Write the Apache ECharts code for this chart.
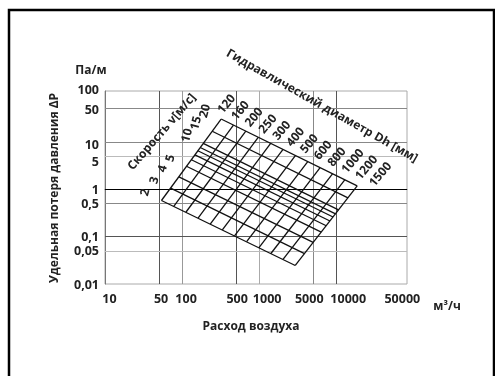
<!DOCTYPE html>
<html>
<head>
<meta charset="utf-8">
<script src="https://cdn.jsdelivr.net/npm/echarts@6.0.0/dist/echarts.min.js"></script>
<style>
html, body { margin: 0; padding: 0; background: #fff; }
#chart { width: 495px; height: 376px; }
</style>
</head>
<body>
<div id="chart"></div>
<script>
// axis ticks (real values, drawn on log10 scale)
var xTicks = [10, 50, 100, 500, 1000, 5000, 10000, 50000];
var yTicks = [0.01, 0.05, 0.1, 0.5, 1, 5, 10, 50, 100];
var xGrid = [50, 100, 500, 1000, 5000, 10000];
var yGrid = [0.05, 0.1, 0.5, 1, 5, 10, 50];

// hydraulic diameter lines, mm: ends at v = 2 m/s (low) and v = 20 m/s (high)
var diameters = [120, 160, 200, 250, 300, 400, 500, 600, 800, 1000, 1200, 1500];
var diamLowQ = [54, 78, 112, 161, 232, 333, 479, 688, 989, 1420, 2040, 2940];
var diamLowR = [0.577, 0.434, 0.326, 0.244, 0.183, 0.138, 0.103, 0.078, 0.058, 0.044, 0.033, 0.0246];
var diamHighQ = [321, 464, 671, 972, 1410, 2040, 2950, 4270, 6180, 8940, 12900, 18700];
var diamHighR = [30.2, 22.5, 16.7, 12.4, 9.25, 6.9, 5.13, 3.82, 2.84, 2.11, 1.57, 1.17];

// velocity lines, m/s: ends at Dh = 120 (left) and Dh = 1500 (right)
var velocities = [2, 3, 4, 5, 6, 7, 8, 9, 10, 15, 20];
var velLabeled = [2, 3, 4, 5, 10, 15, 20];
var velLeftQ = [54, 71, 91, 114, 132, 147, 160, 172, 188, 246, 321];
var velLeftR = [0.577, 1.05, 1.82, 3.05, 4.18, 5.3, 6.46, 7.56, 9.22, 16.7, 30.2];
var velRightQ = [2940, 3880, 5020, 6390, 7420, 8290, 9090, 9790, 10700, 14200, 18700];
var velRightR = [0.0246, 0.0439, 0.0753, 0.1245, 0.1695, 0.213, 0.259, 0.302, 0.367, 0.655, 1.17];

// styles
var xGridColor = ['#555', '#999', '#555', '#aaa', '#888', '#555'];
var yGridColor = ['#bbb', '#555', '#888', '#000', '#bbb', '#888', '#888'];
var xLabelShift = [4.5, 2.2, 4, 1.2, 8, -3.8, 12, 12.2];
var yLabelShift = [1, 1, 0.4, 0.5, 0.8, 6, 3.2, 1.4, -3.7];
var txt = '#222';
var fontFamily = '"Open Sans", sans-serif';

var lg = Math.log10;

function tickIndex(list, v) {
    for (var i = 0; i < list.length; i++) {
        if (Math.abs(lg(list[i]) - v) < 1e-6) return i;
    }
    return -1;
}

function richFor(shifts, horizontal) {
    var rich = {};
    shifts.forEach(function (d, i) {
        var a = Math.max(0, 2 * d), b = Math.max(0, -2 * d);
        rich['s' + i] = {
            color: txt,
            fontSize: 12.5,
            fontWeight: 'bold',
            fontFamily: fontFamily,
            padding: horizontal ? [0, b, 0, a] : [a, 0, b, 0]
        };
    });
    return rich;
}

function labelFormatter(list) {
    return function (v) {
        var i = tickIndex(list, v);
        if (i < 0) return '';
        return '{s' + i + '|' + String(list[i]).replace('.', ',') + '}';
    };
}

var chart = echarts.init(document.getElementById('chart'));

var series = [{
    // helper series carrying the grid lines
    type: 'line',
    data: [[lg(10), lg(0.01)]],
    symbol: 'none',
    lineStyle: { opacity: 0 },
    silent: true,
    markLine: {
        silent: true,
        symbol: 'none',
        z: 1,
        animation: false,
        label: { show: false },
        data: xGrid.map(function (v, i) {
            return { xAxis: lg(v), lineStyle: { color: xGridColor[i], width: 1, type: 'solid' } };
        }).concat(yGrid.map(function (v, i) {
            return { yAxis: lg(v), lineStyle: { color: yGridColor[i], width: 1, type: 'solid' } };
        }))
    }
}];

diameters.forEach(function (d, i) {
    series.push({
        name: 'Dh ' + d,
        type: 'line',
        z: 3,
        symbol: 'none',
        silent: true,
        lineStyle: { color: '#111', width: 1.3 },
        data: [[lg(diamLowQ[i]), lg(diamLowR[i])], [lg(diamHighQ[i]), lg(diamHighR[i])]]
    });
});

velocities.forEach(function (v, i) {
    series.push({
        name: 'v ' + v,
        type: 'line',
        z: 3,
        symbol: 'none',
        silent: true,
        lineStyle: { color: '#111', width: 1.3 },
        data: [[lg(velLeftQ[i]), lg(velLeftR[i])], [lg(velRightQ[i]), lg(velRightR[i])]]
    });
});

var option = {
    animation: false,
    grid: {
        left: 105,
        right: 88,
        top: 91,
        bottom: 92,
        show: true,
        borderColor: '#aaa',
        borderWidth: 1,
        outerBoundsMode: 'none'
    },
    xAxis: {
        type: 'value',
        min: 1,
        max: 4.918,
        splitLine: { show: false },
        axisTick: { show: false },
        axisLine: { show: true, lineStyle: { color: '#777', width: 1 } },
        axisLabel: {
            customValues: xTicks.map(lg),
            formatter: labelFormatter(xTicks),
            rich: richFor(xLabelShift, true),
            margin: 9
        }
    },
    yAxis: {
        type: 'value',
        min: -2,
        max: 2.071,
        splitLine: { show: false },
        axisTick: { show: false },
        axisLine: { show: true, lineStyle: { color: '#777', width: 1 } },
        axisLabel: {
            customValues: yTicks.map(lg),
            formatter: labelFormatter(yTicks),
            rich: richFor(yLabelShift, false),
            margin: 6
        }
    },
    series: series
};
chart.setOption(option);

// texts placed from the data ends
function textEl(x, y, text, rot, align, size) {
    return {
        type: 'text',
        x: x,
        y: y,
        rotation: rot * Math.PI / 180,
        silent: true,
        z: 10,
        style: {
            text: text,
            fill: txt,
            fontSize: size || 12,
            fontWeight: 'bold',
            fontFamily: fontFamily,
            align: align || 'center',
            verticalAlign: 'middle'
        }
    };
}

var graphics = [{
    type: 'rect',
    silent: true,
    shape: { x: 9, y: 10, width: 485, height: 420 },
    style: { fill: null, stroke: '#000', lineWidth: 2.5 }
}];

diameters.forEach(function (d, i) {
    var p = chart.convertToPixel({ gridIndex: 0 }, [lg(diamHighQ[i]), lg(diamHighR[i])]);
    var k = i / (diameters.length - 1);
    graphics.push(textEl(p[0] - 1 + 15.6 * k, p[1] - 7 + 6 * k, String(d), 50, 'left'));
});

velocities.forEach(function (v, i) {
    if (velLabeled.indexOf(v) < 0) return;
    var p = chart.convertToPixel({ gridIndex: 0 }, [lg(velLeftQ[i]), lg(velLeftR[i])]);
    graphics.push(textEl(p[0] - 16, p[1] - 8, String(v), 75, 'center'));
});

graphics.push(textEl(91, 71, 'Па/м', 0));
graphics.push(textEl(54.5, 188, 'Удельная потеря давления ΔP', 90));
graphics.push(textEl(251, 327, 'Расход воздуха', 0));
graphics.push(textEl(447, 307, 'м³/ч', 0));
graphics.push(textEl(162, 132, 'Скорость v[м/с]', 49));
graphics.push(textEl(322, 106, 'Гидравлический диаметр Dh [мм]', -29.5));

chart.setOption({ graphic: graphics });
</script>
</body>
</html>
